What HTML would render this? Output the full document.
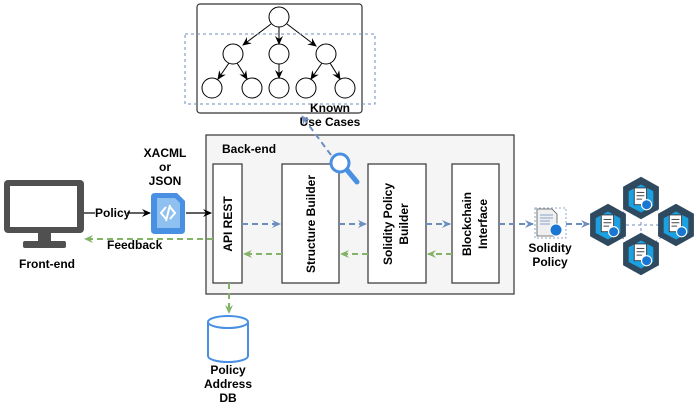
<!DOCTYPE html>
<html><head><meta charset="utf-8"><style>
html,body{margin:0;padding:0;background:#fff;}
svg{display:block;}
text{font-family:"Liberation Sans",Arial,sans-serif;font-weight:bold;font-size:12px;fill:#000;}
</style></head><body>
<svg width="698" height="410" viewBox="0 0 698 410" xmlns="http://www.w3.org/2000/svg">
<defs>
<marker id="ak" markerWidth="10" markerHeight="10" refX="8" refY="5" orient="auto" markerUnits="userSpaceOnUse"><path d="M0,1 L9,5 L0,9 L3,5 Z" fill="#000"/></marker>
<marker id="ab" markerWidth="10" markerHeight="10" refX="8" refY="5" orient="auto" markerUnits="userSpaceOnUse"><path d="M0,1 L9,5 L0,9 L3,5 Z" fill="#6c8ebf"/></marker>
<marker id="ag" markerWidth="10" markerHeight="10" refX="8" refY="5" orient="auto" markerUnits="userSpaceOnUse"><path d="M0,1 L9,5 L0,9 L3,5 Z" fill="#82b366"/></marker>
<g id="hex" transform="scale(1.12)">
<polygon points="0,-19 16,-10 16,10 0,19 -16,10 -16,-10" fill="#2f4a5e"/>
<polygon points="0,-12 11,-6 11,7 0,13 -11,7 -11,-6" fill="#1ba1e2"/>
<rect x="-6" y="-9" width="11" height="15" fill="#fff" stroke="#333" stroke-width="0.8"/>
<line x1="-4" y1="-5" x2="3" y2="-5" stroke="#333" stroke-width="0.8"/>
<line x1="-4" y1="-2" x2="3" y2="-2" stroke="#333" stroke-width="0.8"/>
<line x1="-4" y1="1" x2="1" y2="1" stroke="#333" stroke-width="0.8"/>
<circle cx="5" cy="6" r="4.5" fill="#1976d2" stroke="#fff" stroke-width="1"/>
</g>
</defs>

<!-- tree box -->
<rect x="197" y="4" width="165" height="109" rx="3" fill="#fff" stroke="#333" stroke-width="1.2"/>
<g fill="#fff" stroke="#000" stroke-width="1">
<circle cx="279" cy="17" r="10"/>
<circle cx="233" cy="54" r="10"/><circle cx="279" cy="54" r="10"/><circle cx="326" cy="54" r="10"/>
<circle cx="212" cy="88" r="10"/><circle cx="252" cy="88" r="10"/><circle cx="279" cy="88" r="10"/><circle cx="306" cy="88" r="10"/><circle cx="345" cy="88" r="10"/>
</g>
<g stroke="#000" stroke-width="1" marker-end="url(#ak)">
<line x1="271" y1="24" x2="243" y2="45"/><line x1="279" y1="27" x2="279" y2="44"/><line x1="287" y1="24" x2="316" y2="46"/>
<line x1="229" y1="63" x2="218" y2="79"/><line x1="237" y1="63" x2="247" y2="79"/>
<line x1="279" y1="64" x2="279" y2="78"/>
<line x1="322" y1="63" x2="311" y2="79"/><line x1="330" y1="63" x2="340" y2="79"/>
</g>
<rect x="185" y="34" width="190" height="70" fill="none" stroke="#6c8ebf" stroke-width="1" stroke-dasharray="3,3"/>
<text x="330" y="112" text-anchor="middle">Known</text>
<text x="330" y="126" text-anchor="middle">Use Cases</text>

<!-- backend -->
<rect x="206" y="135" width="308" height="159" fill="#f5f5f5" stroke="#333" stroke-width="1.2"/>
<text x="222" y="153">Back-end</text>
<g fill="#fff" stroke="#333" stroke-width="1.2">
<rect x="213" y="164" width="29" height="119"/>
<rect x="282" y="164" width="57" height="119"/>
<rect x="368" y="164" width="58" height="119"/>
<rect x="452" y="164" width="47" height="119"/>
</g>
<text transform="translate(232,224) rotate(-90)" text-anchor="middle">API REST</text>
<text transform="translate(315,224) rotate(-90)" text-anchor="middle">Structure Builder</text>
<text transform="translate(392,224) rotate(-90)" text-anchor="middle">Solidity Policy</text>
<text transform="translate(408,224) rotate(-90)" text-anchor="middle">Builder</text>
<text transform="translate(471,224) rotate(-90)" text-anchor="middle">Blockchain</text>
<text transform="translate(487,224) rotate(-90)" text-anchor="middle">Interface</text>

<!-- blue dashed -->
<g stroke="#6c8ebf" stroke-width="2" stroke-dasharray="6,4" fill="none" marker-end="url(#ab)">
<line x1="242" y1="224" x2="280" y2="224"/>
<line x1="339" y1="224" x2="366" y2="224"/>
<line x1="426" y1="224" x2="450" y2="224"/>
<line x1="499" y1="224" x2="533" y2="224"/>
<line x1="566" y1="224" x2="589" y2="224"/>
<line x1="331" y1="155" x2="302" y2="116"/>
</g>
<!-- green dashed -->
<g stroke="#82b366" stroke-width="2" stroke-dasharray="6,4" fill="none" marker-end="url(#ag)">
<line x1="282" y1="254" x2="244" y2="254"/>
<line x1="368" y1="254" x2="341" y2="254"/>
<line x1="452" y1="254" x2="428" y2="254"/>
<line x1="213" y1="239" x2="85" y2="239"/>
<line x1="229" y1="283" x2="229" y2="313"/>
</g>
<text x="107" y="249" font-size="11">Feedback</text>

<!-- lens -->
<circle cx="340" cy="163" r="9" fill="#fff" stroke="#4a90e2" stroke-width="3"/>
<line x1="347" y1="170" x2="357" y2="182" stroke="#4a90e2" stroke-width="5" stroke-linecap="round"/>

<!-- monitor -->
<rect x="4" y="180" width="80" height="53" rx="4" fill="#505050"/>
<rect x="10" y="186" width="67" height="41" fill="#fff"/>
<rect x="38" y="232" width="13" height="10" fill="#505050"/>
<rect x="23" y="241" width="43" height="7" rx="2" fill="#505050"/>
<text x="47" y="268" text-anchor="middle">Front-end</text>

<!-- policy arrow -->
<line x1="84" y1="213" x2="95" y2="213" stroke="#000" stroke-width="1.2"/>
<text x="95" y="217" font-size="11">Policy</text>
<line x1="127" y1="213" x2="150" y2="213" stroke="#000" stroke-width="1.2" marker-end="url(#ak)"/>
<line x1="186" y1="213" x2="211" y2="213" stroke="#000" stroke-width="1.2" marker-end="url(#ak)"/>
<text x="165" y="157" text-anchor="middle">XACML</text>
<text x="165" y="171" text-anchor="middle">or</text>
<text x="165" y="185" text-anchor="middle">JSON</text>
<!-- doc icon -->
<path d="M155,193 H177 L185,201 V230 Q185,234 181,234 H155 Q151,234 151,230 V197 Q151,193 155,193 Z" fill="#4a90e2"/>
<path d="M157,198 H175 L180,203 V228 H157 Z" fill="#8ec0f0"/>
<path d="M166,207 L161,213 L166,219 M170,207 L175,213 L170,219 M170,205 L166,221" stroke="#fff" stroke-width="2" fill="none"/>

<!-- cylinder -->
<path d="M208,322 V356 A20,6 0 0 0 248,356 V322" fill="#fff" stroke="#4a90e2" stroke-width="2"/>
<ellipse cx="228" cy="322" rx="20" ry="6" fill="#fff" stroke="#4a90e2" stroke-width="2"/>
<text x="228" y="374" text-anchor="middle">Policy</text>
<text x="228" y="388" text-anchor="middle">Address</text>
<text x="228" y="402" text-anchor="middle">DB</text>

<!-- solidity policy doc -->
<rect x="535" y="208" width="31" height="30" fill="none" stroke="#6c8ebf" stroke-width="0.8" stroke-dasharray="2,2"/>
<path d="M537,209 H552 L557,214 V236 H537 Z" fill="#f0f0f0" stroke="#555" stroke-width="0.8"/>
<g stroke="#6c8ebf" stroke-width="0.8"><line x1="540" y1="215" x2="553" y2="215"/><line x1="540" y1="218" x2="553" y2="218"/><line x1="540" y1="221" x2="550" y2="221"/><line x1="540" y1="224" x2="550" y2="224"/></g>
<circle cx="556" cy="230" r="6" fill="#1976d2" stroke="#fff" stroke-width="1"/>
<text x="550" y="252" text-anchor="middle">Solidity</text>
<text x="550" y="266" text-anchor="middle">Policy</text>

<!-- blockchain network -->
<g stroke="#6c8ebf" stroke-width="1" stroke-dasharray="3,3" fill="none">
<line x1="608" y1="225" x2="676" y2="225"/>
<line x1="641" y1="198" x2="641" y2="254"/>
<line x1="608" y1="225" x2="641" y2="198"/><line x1="641" y1="198" x2="676" y2="225"/>
<line x1="608" y1="225" x2="641" y2="254"/><line x1="641" y1="254" x2="676" y2="225"/>
</g>
<use href="#hex" x="641" y="198"/>
<use href="#hex" x="608" y="225"/>
<use href="#hex" x="676" y="225"/>
<use href="#hex" x="641" y="254"/>
</svg>
</body></html>
